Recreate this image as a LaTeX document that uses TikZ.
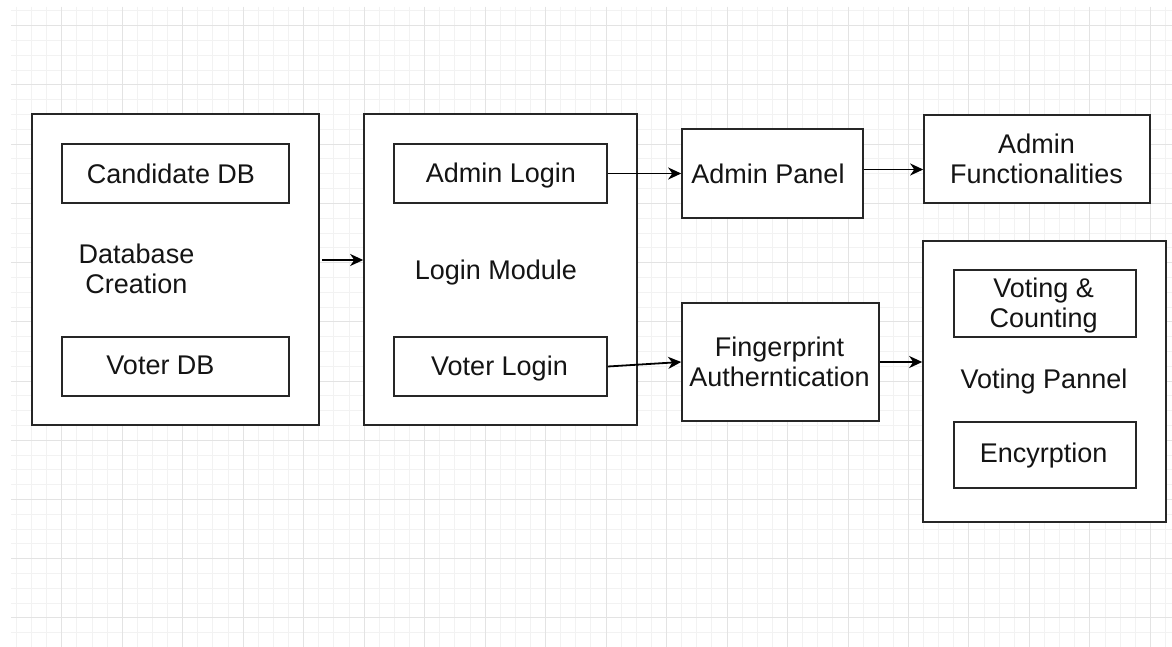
\documentclass[tikz,border=0pt]{standalone}
\usepackage{fontspec}
\setmainfont{Liberation Sans}
\usetikzlibrary{arrows.meta,calc}
\begin{document}
\begin{tikzpicture}[x=1pt,y=-1pt,
  box/.style={draw=black!85,line width=1.6pt,fill=white,inner sep=0pt},
  lbl/.style={font=\fontsize{27}{30}\selectfont,align=center,inner sep=0pt,text=black!92},
  arr/.style={draw=black,line width=1.8pt,-{Stealth[length=13pt,width=12pt,inset=4pt]}},
  gminor/.style={draw=black!5,line width=0.8pt},
  gmajor/.style={draw=black!11,line width=0.8pt}]
\fill[white] (0,0) rectangle (1172,647);
\useasboundingbox (0,0) rectangle (1172,647);
% grid
\begin{scope}
\clip (11,7) rectangle (1172,647);
\foreach \k in {1,...,77} \draw[gminor] ({1.2+15.12*\k},7) -- ({1.2+15.12*\k},647);
\foreach \k in {0,...,42} \draw[gminor] (11,{10.9+14.8*\k}) -- (1172,{10.9+14.8*\k});
\foreach \k in {1,...,19} \draw[gmajor] ({1.2+60.48*\k},7) -- ({1.2+60.48*\k},647);
\foreach \k in {0,...,10} \draw[gmajor] (11,{25.7+59.2*\k}) -- (1172,{25.7+59.2*\k});
\end{scope}
% outer boxes
\node[box,minimum width=287pt,minimum height=311pt] (db) at (175.5,269.5) {};
\node[box,minimum width=273pt,minimum height=311pt] (login) at (500.5,269.5) {};
\node[box,minimum width=181pt,minimum height=89pt] (ap) at (772.5,173.5) {};
\node[box,minimum width=226pt,minimum height=88pt] (af) at (1037,159) {};
\node[box,minimum width=197pt,minimum height=118pt] (fp) at (780.5,362) {};
\node[box,minimum width=243pt,minimum height=281pt] (vp) at (1044.5,381.5) {};
% inner boxes
\node[box,minimum width=227pt,minimum height=59pt] (cdb) at (175.5,173.5) {};
\node[box,minimum width=227pt,minimum height=59pt] (vdb) at (175.5,366.5) {};
\node[box,minimum width=213pt,minimum height=59pt] (al) at (500.5,173.5) {};
\node[box,minimum width=213pt,minimum height=59pt] (vl) at (500.5,366.5) {};
\node[box,minimum width=182pt,minimum height=67pt] (vc) at (1045,303.5) {};
\node[box,minimum width=182pt,minimum height=66pt] (enc) at (1045,455) {};
% labels
\node[lbl] (tcdb) at (171,174) {Candidate DB};
\node[lbl] (tdb) at (136.5,269) {Database\\Creation};
\node[lbl] (tvdb) at (160.5,365) {Voter DB};
\node[lbl] (tlogin) at (496,273) {Login Module};
\node[lbl] (tal) at (501,176) {Admin Login};
\node[lbl] (tvl) at (499.5,369) {Voter Login};
\node[lbl] (tap) at (768,173.5) {Admin Panel};
\node[lbl] (taf) at (1036.5,158.5) {Admin\\Functionalities};
\node[lbl] (tfp) at (779.5,362) {Fingerprint\\Autherntication};
\node[lbl] (tvc) at (1043.7,306) {Voting \&\\Counting};
\node[lbl] (tvp) at (1044,382) {Voting Pannel};
\node[lbl] (tenc) at (1043.7,456) {Encyrption};
% connectors
\coordinate (dbo) at ($(db.east)+(2.5,-9.5)$);
\coordinate (apo) at ($(ap.east)+(0,-4)$);
\draw[arr] (dbo) -- (dbo -| login.west);
\draw[arr] (al.east) -- (ap.west);
\draw[arr] (apo) -- (apo -| af.west);
\draw[arr] (vl.east) -- (fp.west);
\draw[arr] (fp.east) -- (fp.east -| vp.west);
\end{tikzpicture}
\end{document}
